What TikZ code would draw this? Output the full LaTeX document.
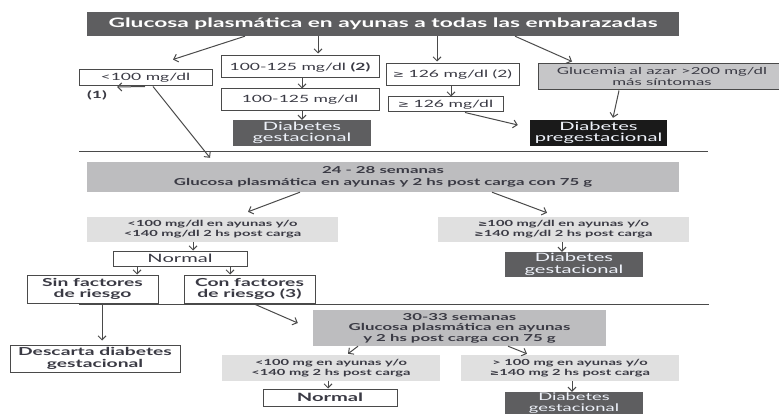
\documentclass[tikz,border=0pt]{standalone}
\usepackage{fontspec}
\setmainfont[FakeStretch=1.75]{Lato}
\newfontfamily\symf[FakeStretch=1.5]{DejaVu Sans}
\usetikzlibrary{arrows.meta}
\definecolor{dk}{HTML}{5E5E60}
\definecolor{lg}{HTML}{BDBDBF}
\definecolor{vl}{HTML}{E0E0E0}
\definecolor{gm}{HTML}{C6C6C8}
\definecolor{bd}{HTML}{4A4A4A}
\definecolor{tx}{HTML}{3A3A44}
\definecolor{wt}{HTML}{EEF2FA}
\definecolor{bk}{HTML}{1A1A1A}
\tikzset{
  base/.style={inner sep=0pt, align=center, text=tx},
  wbox/.style={base, draw=bd, line width=1pt, fill=white, font=\fontsize{10}{11}\selectfont},
  bwbox/.style={wbox, font=\bfseries\fontsize{11}{11.5}\selectfont},
  darkbox/.style={base, fill=dk, text=wt, font=\fontsize{11.5}{11.5}\selectfont},
  blackbox/.style={base, fill=bk, text=wt, font=\fontsize{11.5}{11.5}\selectfont},
  graybox/.style={base, fill=lg, font=\bfseries\fontsize{9.6}{11.5}\selectfont},
  condbox/.style={base, fill=vl, font=\bfseries\fontsize{8.4}{10}\selectfont},
  arr/.style={draw=bd, line width=1pt, -{Straight Barb[length=4pt,width=8pt]}},
  rule/.style={draw=bd, line width=1pt}
}
\begin{document}
\begin{tikzpicture}[x=1pt,y=-1pt]
\useasboundingbox (0,0) rectangle (779,414);
\clip (0,0) rectangle (779,414);
\fill[white] (0,0) rectangle (779,414);
% top row
\node[base, fill=dk, text=white, font=\bfseries\fontsize{13}{13}\selectfont, minimum width=592pt, minimum height=24pt] (top) at (383,24) {Glucosa plasmática en ayunas a todas las embarazadas};
\node[wbox, minimum width=133pt, minimum height=16pt] (lt100) at (145.5,78) {<100 mg/dl};
\node[base, font=\bfseries\fontsize{10}{11}\selectfont] (one) at (97,95) {(1)};
\node[wbox, minimum width=158pt, minimum height=22pt] (r1) at (300,67) {100-125 mg/dl \textbf{(2)}};
\node[wbox, minimum width=158pt, minimum height=22pt] (r2) at (300,100) {100-125 mg/dl};
\node[darkbox, minimum width=138pt, minimum height=26pt] (dg1) at (302,133) {Diabetes\\gestacional};
\node[wbox, minimum width=133pt, minimum height=22pt] (ga) at (452.5,75) {{\symf\fontsize{9}{10}\selectfont ≥} 126 mg/dl (2)};
\node[wbox, minimum width=115pt, minimum height=15pt] (gb) at (445.5,104.5) {{\symf\fontsize{9}{10}\selectfont ≥} 126 mg/dl};
\node[base, draw=bd, line width=1pt, fill=gm, font=\fontsize{9.6}{11}\selectfont, minimum width=248pt, minimum height=26pt] (gl) at (662,77) {Glucemia al azar >200 mg/dl\\más síntomas};
\node[blackbox, minimum width=137pt, minimum height=26pt] (dpre) at (598.5,133) {Diabetes\\pregestacional};
\draw[rule] (79,152) -- (708,152);
% 24-28
\node[graybox, minimum width=592pt, minimum height=30pt] (s1) at (383,177) {24 - 28 semanas\\Glucosa plasmática en ayunas y 2 hs post carga con 75 g};
\node[condbox, minimum width=251pt, minimum height=25pt] (c1) at (212.5,229.5) {<100 mg/dl en ayunas y/o\\<140 mg/dl 2 hs post carga};
\node[condbox, minimum width=251pt, minimum height=25pt] (c2) at (563.5,229.5) {{\symf\fontsize{7.5}{10}\selectfont ≥}100 mg/dl en ayunas y/o\\{\symf\fontsize{7.5}{10}\selectfont ≥}140 mg/dl 2 hs post carga};
\node[wbox, font=\fontsize{11.5}{12}\selectfont, minimum width=134pt, minimum height=15pt] (n1) at (180,258.5) {Normal};
\node[darkbox, minimum width=138pt, minimum height=25pt] (dg2) at (574,264.5) {Diabetes\\gestacional};
\node[bwbox, minimum width=131pt, minimum height=28pt] (sin) at (92.5,289) {Sin factores\\de riesgo};
\node[bwbox, minimum width=131pt, minimum height=28pt] (con) at (249.5,289) {Con factores\\de riesgo (3)};
\draw[rule] (79,304) -- (709,304);
\node[bwbox, minimum width=170pt, minimum height=27pt] (desc) at (95,358.5) {Descarta diabetes\\gestacional};
% 30-33
\node[graybox, font=\bfseries\fontsize{9.6}{10.5}\selectfont, minimum width=293pt, minimum height=36pt] (s2) at (459.5,328) {30-33 semanas\\Glucosa plasmática en ayunas\\y 2 hs post carga con 75 g};
\node[condbox, minimum width=218pt, minimum height=26pt] (c3) at (331,368) {<100 mg en ayunas y/o\\<140 mg 2 hs post carga};
\node[condbox, minimum width=218pt, minimum height=26pt] (c4) at (570,368) {> 100 mg en ayunas y/o\\{\symf\fontsize{7.5}{10}\selectfont ≥}140 mg 2 hs post carga};
\node[wbox, font=\bfseries\fontsize{11.5}{12}\selectfont, minimum width=134pt, minimum height=17pt] (n2) at (330,397.5) {Normal};
\node[darkbox, font=\fontsize{10.5}{10.5}\selectfont, minimum width=138pt, minimum height=22pt] (dg3) at (574,403) {Diabetes\\gestacional};
% arrows
\draw[arr] ([xshift=-138pt]top.south) -- ([xshift=27.5pt,yshift=10pt]lt100.north);
\draw[arr] ([xshift=-65pt]top.south) -- ([xshift=18pt,yshift=2pt]r1.north);
\draw[arr] ([xshift=54pt]top.south) -- ([xshift=-15.5pt,yshift=2pt]ga.north);
\draw[arr] ([xshift=132pt]top.south) -- ([xshift=-90pt,yshift=2pt]gl.north);
\draw[arr] ([xshift=-0.5pt]lt100.south) -- ([xshift=10pt,yshift=8pt]one.east);
\draw[arr] ([xshift=7.5pt]lt100.south) -- ([xshift=-173pt,yshift=4pt]s1.north);
\draw[arr] ([xshift=2pt]r1.south) -- ([xshift=2pt]r2.north);
\draw[arr] ([xshift=2pt]r2.south) -- (dg1.north);
\draw[arr] ([xshift=-1.5pt]ga.south) -- ([xshift=5.5pt]gb.north);
\draw[arr] ([xshift=19.5pt]gb.south) -- ([xshift=-12pt,yshift=8pt]dpre.west);
\draw[arr] ([xshift=-43pt]gl.south) -- ([xshift=14.5pt,yshift=2pt]dpre.north);
\draw[arr] ([xshift=-83pt]s1.south) -- ([xshift=35.5pt,yshift=5pt]c1.north);
\draw[arr] ([xshift=109pt]s1.south) -- ([xshift=-16.5pt,yshift=4pt]c2.north);
\draw[arr] ([xshift=-19.5pt]c1.south) -- ([xshift=13pt]n1.north);
\draw[arr] ([xshift=-1.5pt]c2.south) -- ([xshift=-12pt]dg2.north);
\draw[arr] ([xshift=-43pt]n1.south) -- ([xshift=44.5pt]sin.north);
\draw[arr] ([xshift=50pt]n1.south) -- ([xshift=-19.5pt]con.north);
\draw[arr] ([xshift=9.5pt]sin.south) -- ([xshift=7pt,yshift=4pt]desc.north);
\draw[arr] ([xshift=3.5pt]con.south) -- ([xshift=-15pt,yshift=5pt]s2.west);
\draw[arr] ([xshift=-101.5pt]s2.south) -- ([xshift=17pt,yshift=1pt]c3.north);
\draw[arr] ([xshift=48.5pt]s2.south) -- ([xshift=-43pt,yshift=1pt]c4.north);
\draw[arr] ([xshift=-3pt]c3.south) -- ([xshift=-2pt]n2.north);
\draw[arr] ([xshift=2pt]c4.south) -- ([xshift=-2pt]dg3.north);
\end{tikzpicture}
\end{document}
